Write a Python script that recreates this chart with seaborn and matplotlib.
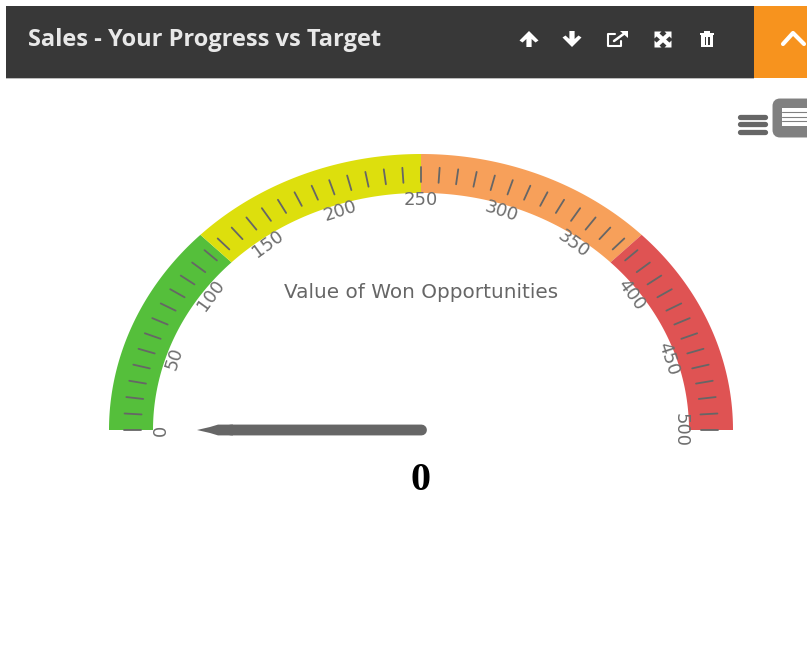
import numpy as np
import pandas as pd
import matplotlib
matplotlib.use("Agg")
import matplotlib.pyplot as plt
from matplotlib.patches import FancyBboxPatch, Rectangle, Polygon
import seaborn as sns

title = "Sales - Your Progress vs Target"
subtitle = "Value of Won Opportunities"
band_edges = [0, 125, 250, 375, 500]
band_colors = ["#55BF3B", "#DDDF0D", "#F7A05A", "#DF5353"]
major_ticks = [0, 50, 100, 150, 200, 250, 300, 350, 400, 450, 500]
minor_ticks = list(range(0, 501, 10))
current_value = 0

sns.set_theme(style="white")
W, H = 807, 672
CX, CY, RX, RY = 421, 430, 312, 276
fig = plt.figure(figsize=(W / 100, H / 100), dpi=100, facecolor="white")

# page furniture, in pixel coordinates
ui = fig.add_axes([0, 0, 1, 1])
ui.set_xlim(0, W); ui.set_ylim(H, 0); ui.axis("off")
ui.add_patch(Rectangle((6, 6), 748, 71.5, fc="#383838", ec="none"))
ui.add_patch(Rectangle((754, 6), 53, 71.5, fc="#F7931E", ec="none"))
ui.add_patch(Rectangle((6, 77.5), 748, 1.2, fc="#BBBBBB", ec="none"))
ui.text(28, 40, title, color="#E8E8E8", fontsize=17, fontweight="bold",
        family="Open Sans", va="center", ha="left")

def poly(pts, ox, oy, c="white"):
    ui.add_patch(Polygon([(ox + a, oy + b) for a, b in pts], fc=c, ec="none"))

arrow = [(0, -8), (9.5, 1.5), (6.5, 3.5), (2.6, 0), (2.6, 8), (-2.6, 8), (-2.6, 0), (-6.5, 3.5), (-9.5, 1.5)]
poly(arrow, 529, 39)
poly([(a, -b) for a, b in arrow], 572, 39)
# external link
ui.plot([615, 608, 608, 621, 621], [34, 34, 46, 46, 41], color="white", lw=1.5, solid_joinstyle="round")
ui.plot([614, 625], [41, 33], color="white", lw=1.8)
poly([(-6, 0), (2, 0), (2, 7)], 626, 30.5)
# expand
ui.plot([657, 669], [34, 45], color="white", lw=3)
ui.plot([669, 657], [34, 45], color="white", lw=3)
for sx, sy in [(-1, -1), (1, -1), (-1, 1), (1, 1)]:
    poly([(0, 0), (-7 * sx, 0), (0, -7 * sy)], 663 + 8.5 * sx, 39.5 + 8 * sy)
# trash
ui.add_patch(Rectangle((701, 35), 12, 12, fc="white", ec="none"))
ui.add_patch(Rectangle((700, 33), 14, 2, fc="white", ec="none"))
ui.add_patch(Rectangle((704, 31), 6, 2, fc="white", ec="none"))
for tx in (704.5, 708):
    ui.add_patch(Rectangle((tx, 37), 1.5, 8, fc="#383838", ec="none"))
# chevron
ui.plot([783, 793, 804], [44, 33, 44], color="white", lw=3, solid_capstyle="round")
# hamburger
for by in (116.5, 124, 131.5):
    ui.plot([740, 765], [by, by], color="#666666", lw=3.8, solid_capstyle="round")
# table button
ui.add_patch(FancyBboxPatch((776, 102), 40, 32, boxstyle="round,pad=0,rounding_size=4",
                            mutation_scale=1, fc="#808080", ec="#808080", lw=5))
ui.add_patch(Rectangle((782, 108), 30, 18, fc="white", ec="none"))
for ly in (112, 116.5, 121):
    ui.plot([782, 807], [ly, ly], color="#808080", lw=0.8)

# gauge: unit circle stretched through the x and y scales
ax = fig.add_axes([0, 0, 1, 1])
ax.patch.set_alpha(0)

def ang(v):
    return np.pi - np.asarray(v, dtype=float) / 500 * np.pi

for lo, hi, col in zip(band_edges[:-1], band_edges[1:], band_colors):
    t = ang(np.linspace(lo, hi, 80))
    r0, r1 = 1.0, 268 / 312
    xs = np.r_[r0 * np.cos(t), r1 * np.cos(t[::-1])]
    ys = np.r_[r0 * np.sin(t), r1 * np.sin(t[::-1])]
    ax.fill(xs, ys, color=col, lw=0)

rows = []
for v in minor_ticks:
    for r in (280 / 312, 297 / 312):
        rows.append({"v": v, "x": r * np.cos(ang(v)), "y": r * np.sin(ang(v))})
df = pd.DataFrame(rows)
sns.lineplot(data=df, x="x", y="y", units="v", estimator=None, sort=False,
             color="#666666", lw=1.3, ax=ax, legend=False)
ax.set_xlim(-CX / RX, (W - CX) / RX)
ax.set_ylim((CY - H) / RY, CY / RY)
ax.axis("off")

for v in major_ticks:
    r = 0.833
    ax.text(r * np.cos(ang(v)), r * np.sin(ang(v)), str(v), rotation=90 - 180 * v / 500,
            rotation_mode="anchor", ha="center", va="center", fontsize=13, color="#6E6E6E")

# needle (points at current_value)
ux = np.cos(ang(current_value))
def nx(px):
    return px / RX * ux
shaft, = ax.plot([nx(-0.5), nx(190)], [0, 0], color="#666666", lw=7.8, solid_capstyle="round")
shaft.set_snap(False)
tip = Polygon([[nx(224), 0], [nx(211), 3 / RY], [nx(203), 5.4 / RY], [nx(188), 5.4 / RY],
               [nx(188), -5.4 / RY], [nx(203), -5.4 / RY], [nx(211), -3 / RY]],
              fc="#666666", ec="none")
tip.set_snap(False)
ax.add_patch(tip)

ax.text(0, (CY - 292) / RY, subtitle, ha="center", va="center", fontsize=14.4, color="#666666")
ax.text(0, (CY - 480) / RY, str(current_value), ha="center", va="center", fontsize=29,
        fontweight="bold", family="Liberation Serif", color="#000000")

fig.savefig("out.png", dpi=100)
